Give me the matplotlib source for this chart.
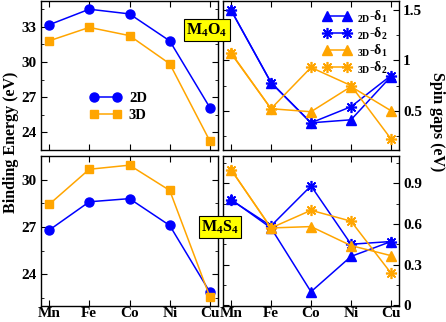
import matplotlib.pyplot as plt
from matplotlib.ticker import MultipleLocator, FuncFormatter
import numpy as np

metals = ['Mn', 'Fe', 'Co', 'Ni', 'Cu']

# binding energies (eV)
be_m4o4_2d = [33.17, 34.5, 34.1, 31.8, 26.1]
be_m4o4_3d = [31.8, 32.95, 32.25, 29.85, 23.25]
be_m4s4_2d = [26.8, 28.6, 28.8, 27.1, 22.87]
be_m4s4_3d = [28.43, 30.66, 30.92, 29.32, 22.56]

# spin gaps (eV)
sg_m4o4_2d_d1 = [1.5, 0.78, 0.38, 0.41, 0.84]
sg_m4o4_2d_d2 = [1.5, 0.78, 0.38, 0.54, 0.85]
sg_m4o4_3d_d1 = [1.07, 0.52, 0.49, 0.74, 0.50]
sg_m4o4_3d_d2 = [1.077, 0.52, 0.93, 0.75, 0.22]

sg_m4s4_2d_d1 = [0.78, 0.57, 0.10, 0.36, 0.47]
sg_m4s4_2d_d2 = [0.776, 0.585, 0.88, 0.45, 0.47]
sg_m4s4_3d_d1 = [1.0, 0.57, 0.58, 0.44, 0.366]
sg_m4s4_3d_d2 = [1.0, 0.57, 0.70, 0.62, 0.237]

plt.rcParams['font.family'] = 'Liberation Serif'
plt.rcParams['font.weight'] = 'bold'
plt.rcParams['mathtext.fontset'] = 'custom'
plt.rcParams['mathtext.rm'] = 'Liberation Serif:bold'
plt.rcParams['mathtext.it'] = 'Liberation Serif:bold'
plt.rcParams['mathtext.bf'] = 'Liberation Serif:bold'

BLUE = '#0000ff'
ORANGE = '#ffa500'
STAR = (8, 2, 0)

fig = plt.figure(figsize=(4.46, 3.22), dpi=100)
W, H = 446.0, 322.0
def ax_at(x0, y0, x1, y1):
    return fig.add_axes([x0 / W, 1 - y1 / H, (x1 - x0) / W, (y1 - y0) / H])

ax1 = ax_at(41, 1, 218, 150)
ax2 = ax_at(223, 1, 399, 150)
ax3 = ax_at(41, 156, 218, 306)
ax4 = ax_at(223, 156, 399, 306)

x = np.arange(len(metals))

# binding energy panels
ax1.plot(x, be_m4o4_2d, '-o', color=BLUE, ms=6.5, lw=1.1, label='2D')
ax1.plot(x, be_m4o4_3d, '-s', color=ORANGE, ms=6, lw=1.1, label='3D')
ax3.plot(x, be_m4s4_2d, '-o', color=BLUE, ms=6.5, lw=1.1)
ax3.plot(x, be_m4s4_3d, '-s', color=ORANGE, ms=6, lw=1.1)

ax1.set_ylim(22.5, 35.2)
ax3.set_ylim(22.0, 31.5)
for a in (ax1, ax3):
    a.yaxis.set_major_locator(MultipleLocator(3))
    a.yaxis.set_minor_locator(MultipleLocator(1.5))

leg = ax1.legend(loc='lower left', bbox_to_anchor=(0.2, 0.1), numpoints=2,
                 frameon=False, fontsize=10.5, handlelength=2.2,
                 handletextpad=0.5, labelspacing=0.25)

# spin gap panels
def gaps(a, d1a, d2a, d1b, d2b):
    a.plot(x, d1a, '-^', color=BLUE, ms=6.5, lw=1.1,
           label=r'$\mathregular{_{2D}}$-$\delta_1$')
    a.plot(x, d2a, '-', marker=STAR, color=BLUE, ms=8, mew=1.2, lw=1.1,
           label=r'$\mathregular{_{2D}}$-$\delta_2$')
    a.plot(x, d1b, '-^', color=ORANGE, ms=6.5, lw=1.1,
           label=r'$\mathregular{_{3D}}$-$\delta_1$')
    a.plot(x, d2b, '-', marker=STAR, color=ORANGE, ms=8, mew=1.2, lw=1.1,
           label=r'$\mathregular{_{3D}}$-$\delta_2$')

gaps(ax2, sg_m4o4_2d_d1, sg_m4o4_2d_d2, sg_m4o4_3d_d1, sg_m4o4_3d_d2)
gaps(ax4, sg_m4s4_2d_d1, sg_m4s4_2d_d2, sg_m4s4_3d_d1, sg_m4s4_3d_d2)

ax2.set_ylim(0.11, 1.59)
ax2.yaxis.set_major_locator(MultipleLocator(0.5))
ax2.yaxis.set_minor_locator(MultipleLocator(0.25))
ax2.yaxis.set_major_formatter(FuncFormatter(lambda v, p: '%g' % v))
ax4.set_ylim(-0.005, 1.1)
ax4.yaxis.set_major_locator(MultipleLocator(0.3))
ax4.yaxis.set_minor_locator(MultipleLocator(0.15))
ax4.yaxis.set_major_formatter(FuncFormatter(lambda v, p: '0' if v == 0 else '%.1f' % v))

ax2.legend(loc='upper right', bbox_to_anchor=(0.98, 1.0), numpoints=2,
           frameon=False, fontsize=10, handlelength=2.0,
           handletextpad=0.4, labelspacing=0.05, borderaxespad=0.2)

for a in (ax1, ax2, ax3, ax4):
    a.set_xlim(-0.2, 4.2)
    a.set_xticks(x)
    a.tick_params(which='both', direction='in', top=True, right=True,
                  left=True, bottom=True, labelsize=11)
    a.tick_params(which='major', length=4)
    a.tick_params(which='minor', length=2.5)
    a.tick_params(axis='x', pad=1)
    a.tick_params(axis='y', pad=3)
    for s in a.spines.values():
        s.set_linewidth(1.0)

for a in (ax1, ax2):
    a.set_xticklabels([])
ax3.set_xticklabels(metals)
ax4.set_xticklabels(metals)
for a in (ax2, ax4):
    a.yaxis.tick_right()
    a.tick_params(which='both', left=True, labelleft=False, labelright=True)

fig.text(0.006, 1 - 142 / H, 'Binding Energy (eV)', rotation=90, va='center',
         ha='left', fontsize=11.5)
fig.text(0.998, 1 - 122 / H, 'Spin gaps (eV)', rotation=270, va='center',
         ha='right', fontsize=11.5)

box = dict(boxstyle='square,pad=0.15', facecolor='#ffff00', edgecolor='black', lw=0.8)
fig.text(207 / W, 1 - 30 / H, r'M$_4$O$_4$', ha='center', va='center',
         fontsize=11.5, bbox=box)
fig.text(220 / W, 1 - 227 / H, r'M$_4$S$_4$', ha='center', va='center',
         fontsize=11.5, bbox=box)

fig.savefig('out.png', dpi=100)
